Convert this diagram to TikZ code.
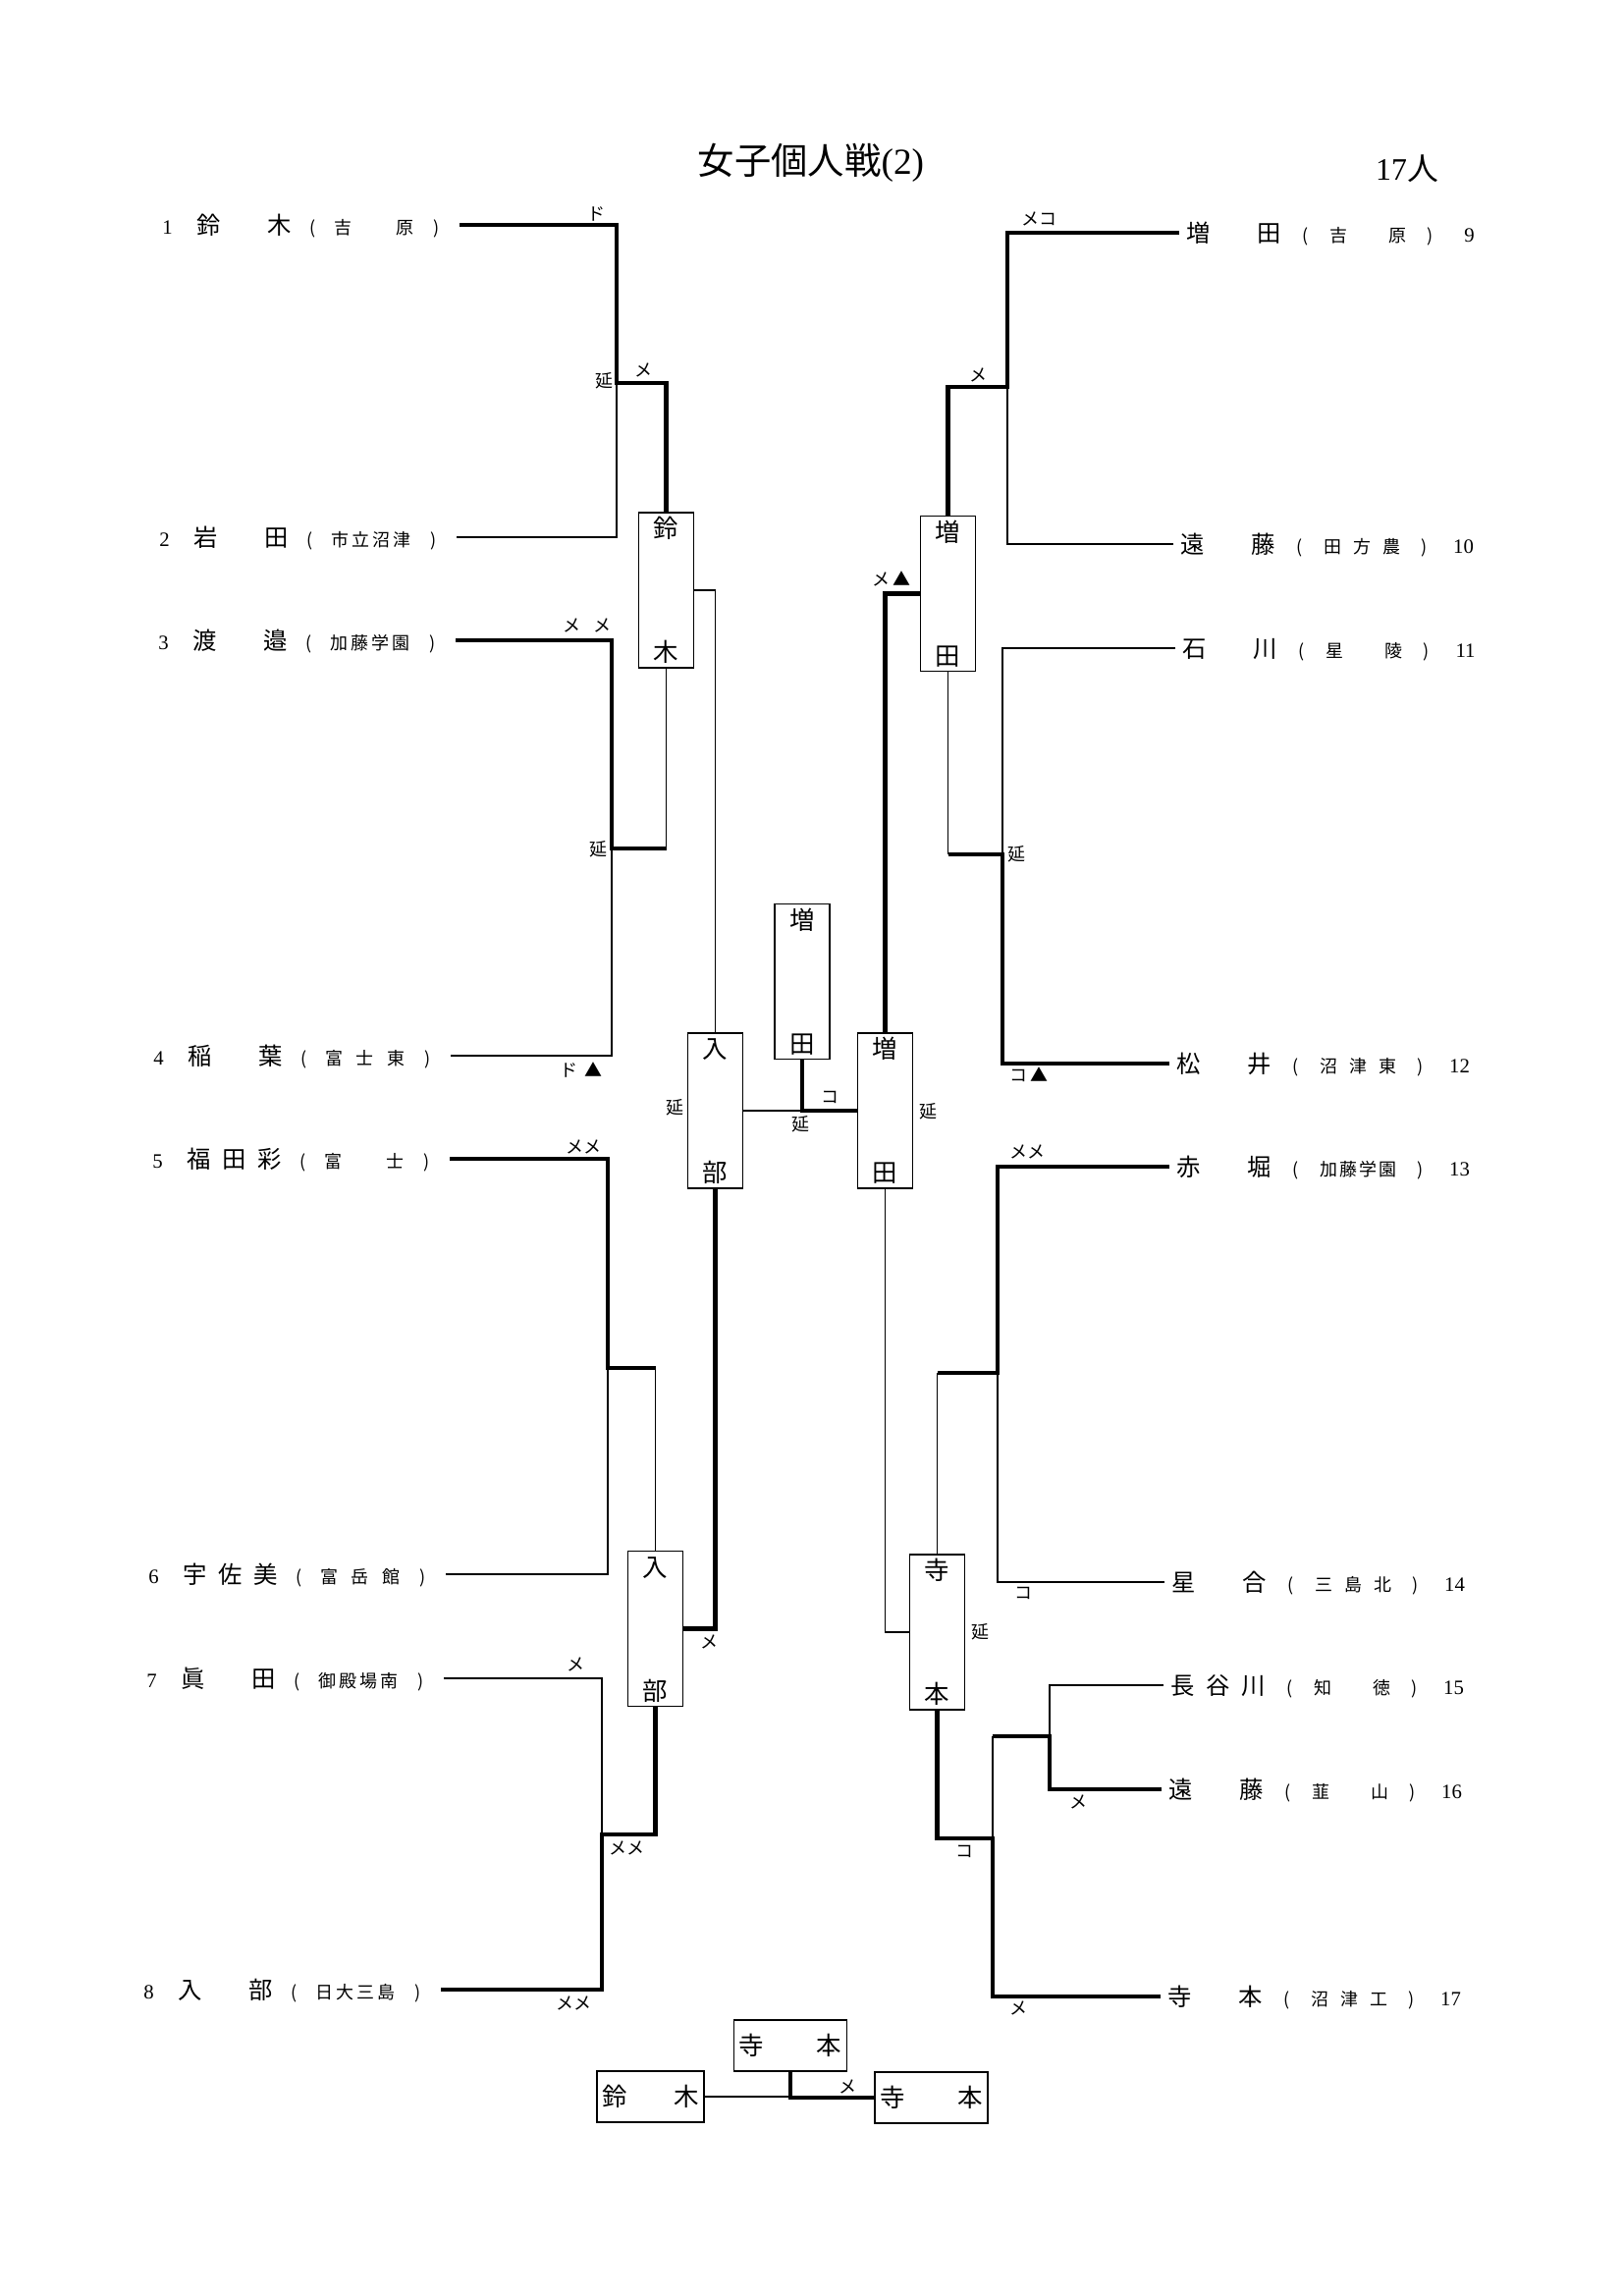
\documentclass[tikz,border=0pt]{standalone}
\usepackage{fontspec}
\setmainfont{Liberation Serif}
\newfontfamily\jp{Noto Sans CJK JP}
\usepackage{tikz}
\usetikzlibrary{positioning, calc}

% one scan pixel
\newdimen\pxu \pxu=0.12704mm
\newcommand{\fName}{\jp\fontsize{8.8}{10}\selectfont}
\newcommand{\fBox}{\jp\fontsize{9.2}{11}\selectfont}
\newcommand{\fSchool}{\jp\fontsize{6.5}{8}\selectfont}
\newcommand{\fNum}{\fontsize{7.5}{9}\selectfont}
\newcommand{\fLbl}{\jp\fontsize{6.5}{8}\selectfont}
% entries: number, name, (school)
\newcommand{\lrow}[3]{\makebox[30\pxu]{\fNum #1}\hspace{15\pxu}\makebox[96\pxu][s]{\fName #2}\makebox[44\pxu]{\fSchool (}\makebox[81\pxu][s]{\fSchool #3}\makebox[46\pxu]{\fSchool )}\hspace{-13\pxu}}
\newcommand{\rrow}[3]{\hspace{7\pxu}\makebox[96\pxu][s]{\fName #1}\makebox[50\pxu]{\fSchool (}\makebox[78\pxu][s]{\fSchool #2}\makebox[48\pxu]{\fSchool )}\makebox[32\pxu]{\fNum #3}}

\begin{document}
\begin{tikzpicture}[
    x=0.12704mm, y=-0.12704mm,
    % Line Styles
    lose/.style={line width=0.5pt},
    win/.style={line width=1.6pt},
    % Node Styles
    leftent/.style={anchor=east, inner sep=0pt, text height=7.7pt, text depth=1.1pt},
    rightent/.style={anchor=west, inner sep=0pt, text height=7.7pt, text depth=1.1pt},
    kbox/.style={draw, line width=0.6pt, minimum width=7.1mm, minimum height=20.1mm, inner sep=0pt},
    hbox/.style={draw, line width=0.6pt, minimum width=14.6mm, minimum height=6.6mm, inner sep=0pt},
    kch/.style={font=\fBox, inner sep=0pt, text height=8.1pt, text depth=1.1pt},
    lbl/.style={font=\fLbl, inner sep=0pt}
]
\fill[white] (0,0) rectangle (1653,2338);
\useasboundingbox (0,0) rectangle (1653,2338);

% --- Title ---
\node (title) at (826,166) {{\jp\fontsize{13.5}{16}\selectfont 女子個人戦}{\fontsize{13.5}{16}\selectfont (2)}};
\node (count) at (1433,172) {{\fontsize{11.5}{14}\selectfont 17}{\jp\fontsize{11.5}{14}\selectfont 人}};

% --- 1. Left Entries ---
\node[leftent] (n1) at (468,229) {\lrow{1}{鈴\hfill 木}{吉\hfill 原}};
\node[leftent] (n2) at (465,547) {\lrow{2}{岩\hfill 田}{市\hfill 立\hfill 沼\hfill 津}};
\node[leftent] (n3) at (464,652) {\lrow{3}{渡\hfill 邉}{加\hfill 藤\hfill 学\hfill 園}};
\node[leftent] (n4) at (459,1075) {\lrow{4}{稲\hfill 葉}{富\hfill 士\hfill 東}};
\node[leftent] (n5) at (458,1180) {\lrow{5}{福\hfill 田\hfill 彩}{富\hfill 士}};
\node[leftent] (n6) at (454,1603) {\lrow{6}{宇\hfill 佐\hfill 美}{富\hfill 岳\hfill 館}};
\node[leftent] (n7) at (452,1709) {\lrow{7}{眞\hfill 田}{御\hfill 殿\hfill 場\hfill 南}};
\node[leftent] (n8) at (449,2026) {\lrow{8}{入\hfill 部}{日\hfill 大\hfill 三\hfill 島}};

% --- 2. Right Entries ---
\node[rightent] (n9) at (1201,237) {\rrow{増\hfill 田}{吉\hfill 原}{9}};
\node[rightent] (n10) at (1195,554) {\rrow{遠\hfill 藤}{田\hfill 方\hfill 農}{10}};
\node[rightent] (n11) at (1197,660) {\rrow{石\hfill 川}{星\hfill 陵}{11}};
\node[rightent] (n12) at (1191,1083) {\rrow{松\hfill 井}{沼\hfill 津\hfill 東}{12}};
\node[rightent] (n13) at (1191,1188) {\rrow{赤\hfill 堀}{加\hfill 藤\hfill 学\hfill 園}{13}};
\node[rightent] (n14) at (1186,1611) {\rrow{星\hfill 合}{三\hfill 島\hfill 北}{14}};
\node[rightent] (n15) at (1185,1716) {\rrow{長\hfill 谷\hfill 川}{知\hfill 徳}{15}};
\node[rightent] (n16) at (1183,1822) {\rrow{遠\hfill 藤}{韮\hfill 山}{16}};
\node[rightent] (n17) at (1182,2033) {\rrow{寺\hfill 本}{沼\hfill 津\hfill 工}{17}};

% --- 3. Bracket Joints ---
\coordinate (j12) at (628,390);
\coordinate (j34) at (623,864);
\coordinate (j56) at (619,1393);
\coordinate (j78) at (613,1868);
\coordinate (j910) at (1026,394);
\coordinate (j1112) at (1021,870);
\coordinate (j1314) at (1016,1398);
\coordinate (j1516) at (1069,1768);
\coordinate (j17) at (1011,1872);

% --- 4. Winner Boxes ---
\node[kbox] (b1) at (678.5,601) {};
\node[kch, below=0.45mm of b1.north] (b1t) {鈴};
\node[kch, above=0.45mm of b1.south] (b1b) {木};

\node[kbox] (b2) at (728.5,1131) {};
\node[kch, below=0.45mm of b2.north] (b2t) {入};
\node[kch, above=0.45mm of b2.south] (b2b) {部};

\node[kbox] (b3) at (667.5,1658.5) {};
\node[kch, below=0.45mm of b3.north] (b3t) {入};
\node[kch, above=0.45mm of b3.south] (b3b) {部};

\node[kbox] (cf) at (817,999.5) {};
\node[kch, below=0.45mm of cf.north] (cft) {増};
\node[kch, above=0.45mm of cf.south] (cfb) {田};

\node[kbox] (b4) at (965.5,604.5) {};
\node[kch, below=0.45mm of b4.north] (b4t) {増};
\node[kch, above=0.45mm of b4.south] (b4b) {田};

\node[kbox] (b5) at (901.5,1131) {};
\node[kch, below=0.45mm of b5.north] (b5t) {増};
\node[kch, above=0.45mm of b5.south] (b5b) {田};

\node[kbox] (b6) at (954.5,1662) {};
\node[kch, below=0.45mm of b6.north] (b6t) {寺};
\node[kch, above=0.45mm of b6.south] (b6b) {本};

% --- 5. Play-off Boxes ---
\node[hbox] (t1) at (805,2083) {};
\node[kch, right=0.7mm of t1.west] (t1l) {寺};
\node[kch, left=0.7mm of t1.east] (t1r) {本};
\node[hbox, minimum width=13.85mm] (t2) at (662.5,2135) {};
\node[kch, right=0.7mm of t2.west] (t2l) {鈴};
\node[kch, left=0.7mm of t2.east] (t2r) {木};
\node[hbox] (t3) at (948.5,2136) {};
\node[kch, right=0.7mm of t3.west] (t3l) {寺};
\node[kch, left=0.7mm of t3.east] (t3r) {本};

% --- Edges ---
% Left block
\draw[win] (n1.east) -| (j12) -| (b1.north);
\draw[lose] (n2.east) -| (j12);
\draw[win] (n3.east) -| (j34) -- (j34 -| b1.south);
\draw[lose] (j34 -| b1.south) -- (b1.south);
\draw[lose] (n4.east) -| (j34);
\draw[win] (n5.east) -| (j56) -- (j56 -| b3.north);
\draw[lose] (j56 -| b3.north) -- (b3.north);
\draw[lose] (n6.east) -| (j56);
\draw[win] (n8.east) -| (j78) -| (b3.south);
\draw[lose] (n7.east) -| (j78);
\draw[lose] (b1.east) -| (b2.north);
\draw[win] (b3.east) -| (b2.south);

% Final
\draw[lose] (b2.east) -- (b2.east -| cf.south);
\draw[win] (cf.south) |- (b5.west);

% Right block
\draw[win] (n9.west) -| (j910) -| (b4.north);
\draw[lose] (n10.west) -| (j910);
\draw[win] (n12.west) -| (j1112) -- (j1112 -| b4.south);
\draw[lose] (j1112 -| b4.south) -- (b4.south);
\draw[lose] (n11.west) -| (j1112);
\draw[win] (n13.west) -| (j1314) -- (j1314 -| b6.north);
\draw[lose] (j1314 -| b6.north) -- (b6.north);
\draw[lose] (n14.west) -| (j1314);
\draw[win] (n16.west) -| (j1516) -- (j1516 -| j17);
\draw[lose] (n15.west) -| (j1516);
\draw[lose] (j1516 -| j17) -- (j17);
\draw[win] (n17.west) -| (j17) -| (b6.south);
\draw[win] (b4.west) -| (b5.north);
\draw[lose] (b5.south) |- (b6.west);

% Play-off
\draw[lose] (t2.east) -- (t2.east -| t1.south);
\draw[win] (t1.south) |- (t3.west);

% --- Scores ---
\node[lbl] (l1) at (607,218) {ド};
\node[lbl] (l2) at (615,388) {延};
\node[lbl] (l3) at (655,377) {メ};
\node[lbl] (l4) at (598,637) {メ\hspace{1.6mm}メ};
\node[lbl] (l5) at (609,865) {延};
\node[lbl] (l6) at (592,1089) {ド\hspace{1mm}▲};
\node[lbl] (l7) at (687,1128) {延};
\node[lbl] (l8) at (845,1117) {コ};
\node[lbl] (l9) at (815,1145) {延};
\node[lbl] (l10) at (594,1168) {メメ};
\node[lbl] (l11) at (722,1672) {メ};
\node[lbl] (l12) at (586,1695) {メ};
\node[lbl] (l13) at (638,1882) {メメ};
\node[lbl] (l14) at (584,2040) {メメ};

\node[lbl] (r1) at (1058,223) {メコ};
\node[lbl] (r2) at (996,382) {メ};
\node[lbl] (r3) at (908,589) {メ\hspace{0.5mm}▲};
\node[lbl] (r4) at (1035,870) {延};
\node[lbl] (r5) at (1048,1094) {コ\hspace{0.4mm}▲};
\node[lbl] (r6) at (945,1132) {延};
\node[lbl] (r7) at (1046,1173) {メメ};
\node[lbl] (r8) at (1042,1622) {コ};
\node[lbl] (r9) at (998,1662) {延};
\node[lbl] (r10) at (1098,1835) {メ};
\node[lbl] (r11) at (982,1885) {コ};
\node[lbl] (r12) at (1037,2045) {メ};

\node[lbl] (fm) at (863,2125) {メ};

\end{tikzpicture}
\end{document}
